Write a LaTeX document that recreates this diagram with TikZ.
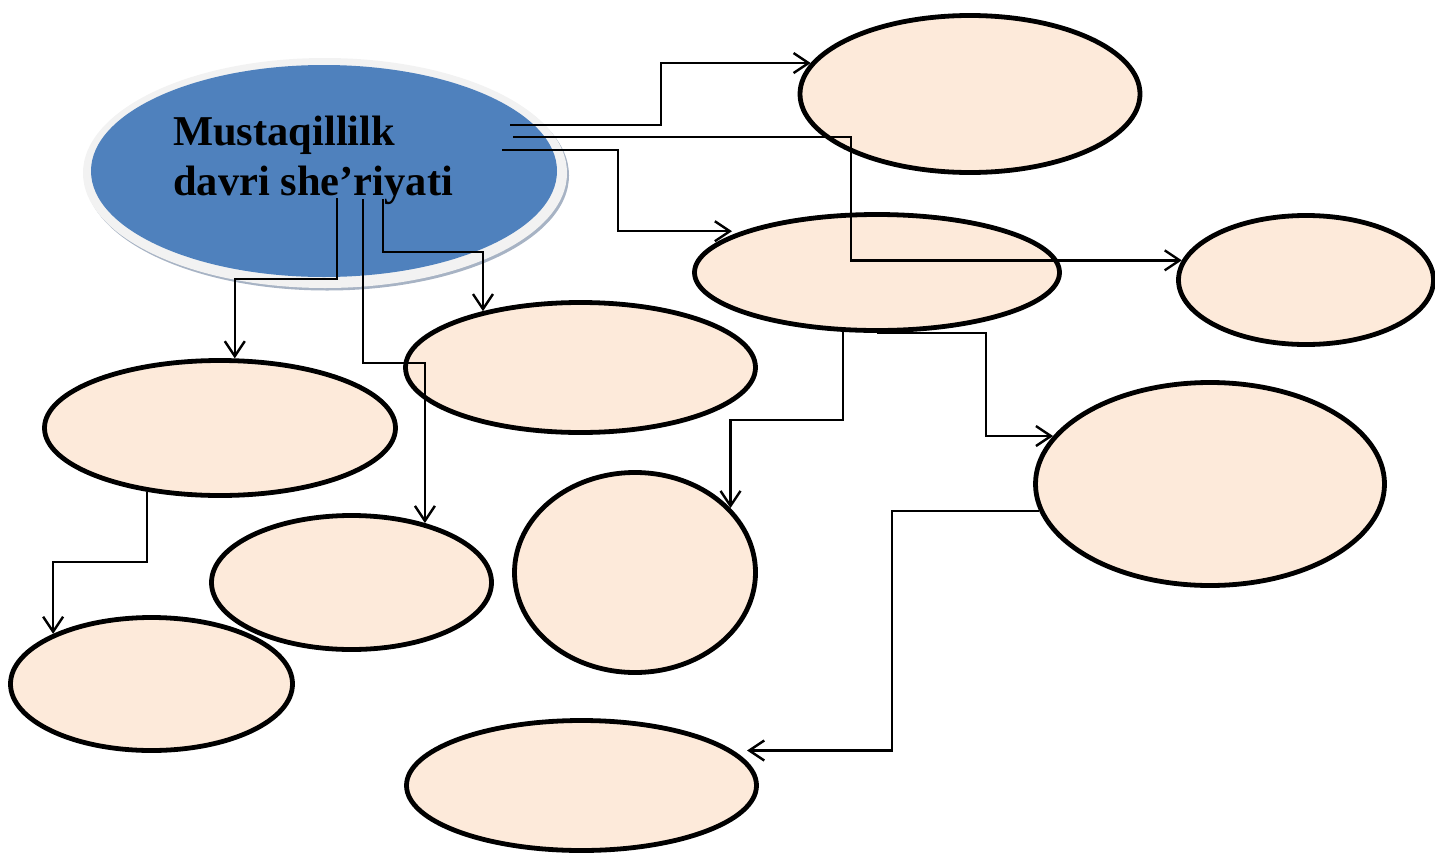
\documentclass[tikz,border=0pt]{standalone}
\usepackage{fontspec}
\setmainfont{Liberation Serif}
\usetikzlibrary{shapes.geometric,arrows.meta}
\definecolor{peach}{HTML}{FDEADA}
\definecolor{mainblue}{HTML}{4F81BD}
\definecolor{rimgray}{HTML}{F2F2F2}
\definecolor{shadowgray}{HTML}{A7B3C4}
\tikzset{
  bubble/.style={ellipse, draw=black, line width=4.8pt, fill=peach, inner sep=0pt},
  link/.style={draw=black, line width=2.4pt, -{Straight Barb[length=15pt,width=20pt]}},
  titletext/.style={inner sep=0pt, anchor=base west, font=\bfseries\fontsize{42.5}{50}\selectfont}
}
\begin{document}
\begin{tikzpicture}[x=1pt,y=-1pt]
\useasboundingbox (0,0) rectangle (1435,854);
% main ellipse
\node[ellipse, fill=shadowgray, minimum width=484, minimum height=230, inner sep=0pt] (mainshadow) at (327,175.5) {};
\node[ellipse, fill=rimgray, minimum width=484, minimum height=230, inner sep=0pt] (mainrim) at (325,173) {};
\node[ellipse, fill=mainblue, minimum width=466, minimum height=212, inner sep=0pt] (main) at (324,171) {};
\node[titletext] (t1) at (173,145) {Mustaqillilk};
\node[titletext] (t2) at (173,195) {davri she’riyati};
% peach ellipses
\node[bubble, minimum width=340, minimum height=157] (E1) at (970,94) {};
\node[bubble, minimum width=365, minimum height=116] (E2) at (877,272.5) {};
\node[bubble, minimum width=255, minimum height=129] (E3) at (1306,280) {};
\node[bubble, minimum width=350, minimum height=130] (E4) at (580.5,367.5) {};
\node[bubble, minimum width=351, minimum height=135] (E5) at (220,428) {};
\node[bubble, minimum width=349, minimum height=203] (E6) at (1210,484) {};
\node[bubble, minimum width=241, minimum height=200] (E7) at (635,572.5) {};
\node[bubble, minimum width=280, minimum height=134] (E8) at (351.5,582.5) {};
\node[bubble, minimum width=282, minimum height=133] (E9) at (151.5,684) {};
\node[bubble, minimum width=350, minimum height=130] (E10) at (581.5,785.5) {};
% connector start points inside the main ellipse
\coordinate (s1) at (510,125);
\coordinate (s2) at (513,137);
\coordinate (s3) at (502,150);
\coordinate (s4) at (337,198);
\coordinate (s5) at (363,199);
\coordinate (s6) at (383,199);
% connectors
\draw[link] (s1) -- ++(151,0) |- (E1.169);
\draw[link] (s2) -- ++(338,0) |- (E3.171);
\draw[link, shorten >=10pt] (s3) -- ++(116,0) |- (E2.163);
\draw[link] (s4) -- ++(0,81) -| (E5.78);
\draw[link] (s5) -- ++(0,164) -| (E8.39);
\draw[link] (s6) -- ++(0,53) -| (E4.150);
\draw[link] (E2.240) -- ++(0,88) -| (E7.34);
\draw[link] (E2.south) -- ++(109,0) |- (E6.163);
\draw[link, shorten >=14pt] (E6.189) -- ++(-147,0) |- (E10.13);
\draw[link] (E5.221) -- ++(0,70) -| (E9.153);
\end{tikzpicture}
\end{document}
